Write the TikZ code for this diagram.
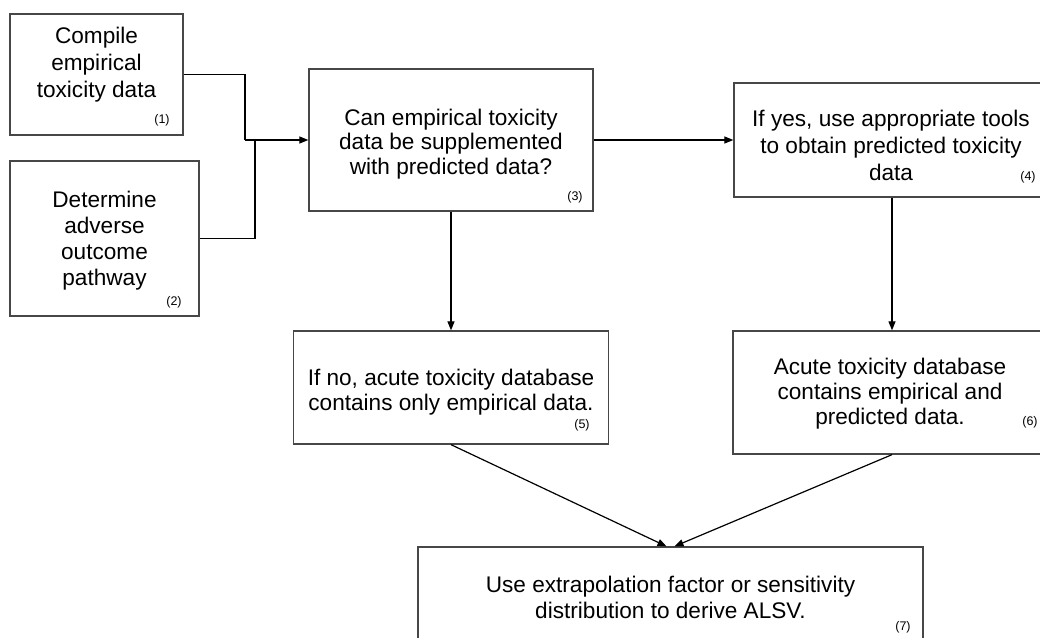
\documentclass[tikz,border=0pt]{standalone}
\usepackage{fontspec}
\setmainfont{Liberation Sans}
\usetikzlibrary{arrows.meta,calc}
\begin{document}
\begin{tikzpicture}[x=1pt,y=-1pt,
  box/.style={draw=black!72,line width=1.3pt,rectangle,inner sep=0pt,fill=white},
  txt/.style={align=center,inner sep=0pt,font=\fontsize{22.6}{26}\selectfont},
  num/.style={inner sep=0pt,font=\fontsize{12.5}{14}\selectfont},
  conn/.style={draw=black,line width=1.2pt},
  arr/.style={conn,-{Triangle[length=9pt,width=7pt]}}
]
\useasboundingbox (0,0) rectangle (1040,637);
% boxes
\node[box,minimum width=173pt,minimum height=121pt] (b1) at (96.5,74.5) {};
\node[box,minimum width=189pt,minimum height=155pt] (b2) at (104.5,238.5) {};
\node[box,minimum width=284pt,minimum height=142pt] (b3) at (451,140) {};
\node[box,minimum width=316pt,minimum height=114pt] (b4) at (892,140) {};
\node[box,minimum width=315pt,minimum height=113pt] (b5) at (451,387.5) {};
\node[box,minimum width=318pt,minimum height=123pt] (b6) at (892,392.5) {};
\node[box,minimum width=505pt,minimum height=113pt] (b7) at (670.5,603.5) {};
% texts
\node[txt] (t1) at (96.5,65) {Compile\\[1pt]empirical\\[1pt]toxicity data};
\node[txt] (t2) at (104.5,241) {Determine\\adverse\\outcome\\pathway};
\node[txt] (t3) at (451,144) {Can empirical toxicity\\[-1.5pt]data be supplemented\\[-1.5pt]with predicted data?};
\node[txt] (t4) at (891,145) {If yes, use appropriate tools\\[1pt]to obtain predicted toxicity\\[1pt]data};
\node[txt] (t5) at (451,392.5) {If no, acute toxicity database\\[-1pt]contains only empirical data.};
\node[txt] (t6) at (890,394) {Acute toxicity database\\[-1pt]contains empirical and\\[-1pt]predicted data.};
\node[txt] (t7) at (670.5,597) {Use extrapolation factor or sensitivity\\distribution to derive ALSV.};
% numbers
\node[num] (n1) at (162,120) {(1)};
\node[num] (n2) at (174,302) {(2)};
\node[num] (n3) at (575,197) {(3)};
\node[num] (n4) at (1028,177) {(4)};
\node[num] (n5) at (582,425) {(5)};
\node[num] (n6) at (1030,422) {(6)};
\node[num] (n7) at (903,627) {(7)};
% connectors
\coordinate (j1) at (245,140);
\coordinate (j2) at (255,140);
\draw[conn] (b1.east) -| (j1);
\draw[conn] (b2.east) -| (j2);
\draw[arr] (j1) -- (b3.west);
\draw[arr] (b3.east) -- (b4.west);
\draw[arr] (b3.south) -- (b5.north);
\draw[arr] (b4.south) -- (b6.north);
\draw[arr] (b5.south) -- ($(b7.north)+(-4,0)$);
\draw[arr] (b6.south) -- ($(b7.north)+(4,0)$);
\end{tikzpicture}
\end{document}
